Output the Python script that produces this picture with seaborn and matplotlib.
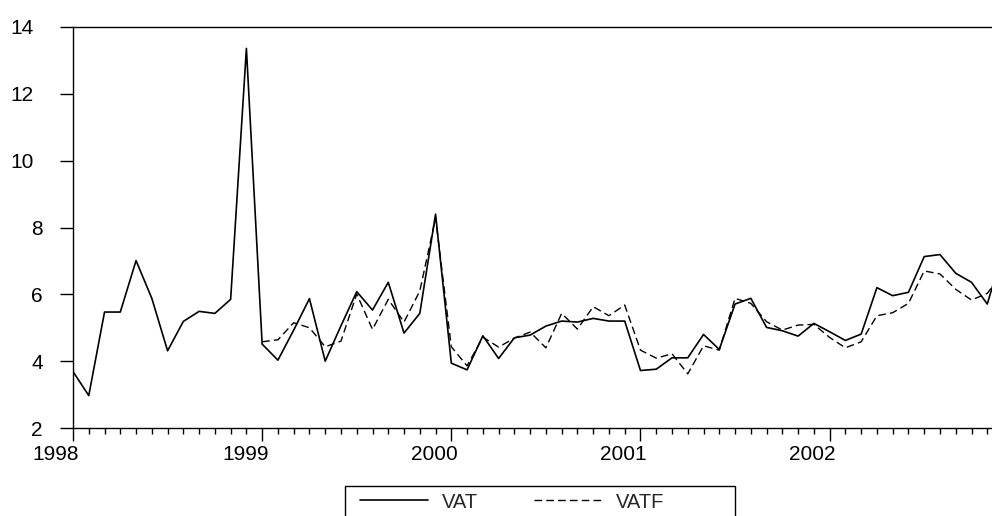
import numpy as np
import pandas as pd
import matplotlib
matplotlib.use('Agg')
import matplotlib.pyplot as plt
from matplotlib.transforms import ScaledTranslation
from matplotlib.patches import Rectangle
import seaborn as sns

# monthly observations 1998M01 - 2002M12
months = pd.period_range('1998-01', '2002-12', freq='M')

vat = [3.69, 2.97, 5.47, 5.47, 7.01, 5.88, 4.31, 5.19, 5.49, 5.43, 5.85, 13.36,
       4.51, 4.03, 4.93, 5.87, 4.00, 5.06, 6.08, 5.53, 6.36, 4.84, 5.43, 8.40,
       3.94, 3.74, 4.76, 4.08, 4.70, 4.78, 5.05, 5.20, 5.17, 5.28, 5.20, 5.20,
       3.72, 3.76, 4.10, 4.10, 4.80, 4.35, 5.71, 5.88, 5.01, 4.91, 4.75, 5.13,
       4.88, 4.62, 4.81, 6.20, 5.96, 6.06, 7.13, 7.19, 6.63, 6.36, 5.71, 7.30]

# forecast only exists from 1999 on
vatf = [np.nan] * 12 + [
       4.58, 4.64, 5.15, 5.00, 4.43, 4.60, 6.01, 4.95, 5.85, 5.17, 6.10, 8.28,
       4.43, 3.86, 4.72, 4.42, 4.69, 4.87, 4.40, 5.43, 4.96, 5.63, 5.36, 5.68,
       4.33, 4.09, 4.22, 3.62, 4.46, 4.33, 5.88, 5.73, 5.18, 4.93, 5.08, 5.10,
       4.71, 4.40, 4.58, 5.36, 5.45, 5.73, 6.70, 6.61, 6.15, 5.83, 6.03, 6.65]

ytick_vals = [2, 4, 6, 8, 10, 12, 14]

df = pd.DataFrame({'obs': np.arange(len(months)), 'VAT': vat, 'VATF': vatf})

sns.set_style('ticks')
plt.rcParams['font.family'] = ['Liberation Sans', 'DejaVu Sans']

fig = plt.figure(figsize=(9.92, 5.16), dpi=100)
ax = fig.add_axes([73 / 992, 88 / 516, 1 - 73 / 992, 401 / 516])

sns.lineplot(data=df, x='obs', y='VAT', color='black', linewidth=1.2,
             label='VAT', legend=False, ax=ax)
sns.lineplot(data=df, x='obs', y='VATF', color='black', linewidth=1.0,
             linestyle=(0, (5.5, 3)), label='VATF', legend=False, ax=ax)

# axis frame like eviews: left, bottom, top
ax.spines['right'].set_visible(False)
for s in ['left', 'bottom', 'top']:
    ax.spines[s].set_color('black')
    ax.spines[s].set_linewidth(1.0)

ax.set_yticks(ytick_vals, [str(v) for v in ytick_vals])
year_pos = [i for i, p in enumerate(months) if p.month == 1]
ax.set_xticks(year_pos, [str(months[i].year) for i in year_pos])
ax.set_xticks(np.arange(len(months)), minor=True)
# limits after the ticks, set_xticks would widen them otherwise
ax.set_xlim(0, 58.3)
ax.set_ylim(2, 14)

ax.tick_params(axis='y', length=9.6, width=1, pad=12, labelsize=15, colors='black')
ax.tick_params(axis='x', which='major', length=9.4, width=1, pad=3, labelsize=15, colors='black')
ax.tick_params(axis='x', which='minor', length=4, width=1, colors='black')
ax.set_xlabel('')
ax.set_ylabel('')

for lab in ax.get_yticklabels():
    if len(lab.get_text()) > 1:
        lab.set_transform(lab.get_transform() + ScaledTranslation(-0.09, 0, fig.dpi_scale_trans))
for lab in ax.get_xticklabels():
    lab.set_transform(lab.get_transform() + ScaledTranslation(-0.17, 0, fig.dpi_scale_trans))

leg_box = Rectangle((345 / 992, 1 - 486 / 516), 390 / 992, -0.2,
                    transform=fig.transFigure, facecolor='white',
                    edgecolor='black', linewidth=1.0)
fig.add_artist(leg_box)

handles = ax.get_lines()[:2]
leg = fig.legend(handles, ['VAT', 'VATF'], loc='center left',
                 bbox_to_anchor=(360 / 992, 1 - 502 / 516), ncol=2,
                 frameon=False, borderpad=0, borderaxespad=0,
                 handlelength=3.4, handletextpad=0.68, columnspacing=2.75,
                 fontsize=14.5)

fig.savefig('out.png', dpi=100)
